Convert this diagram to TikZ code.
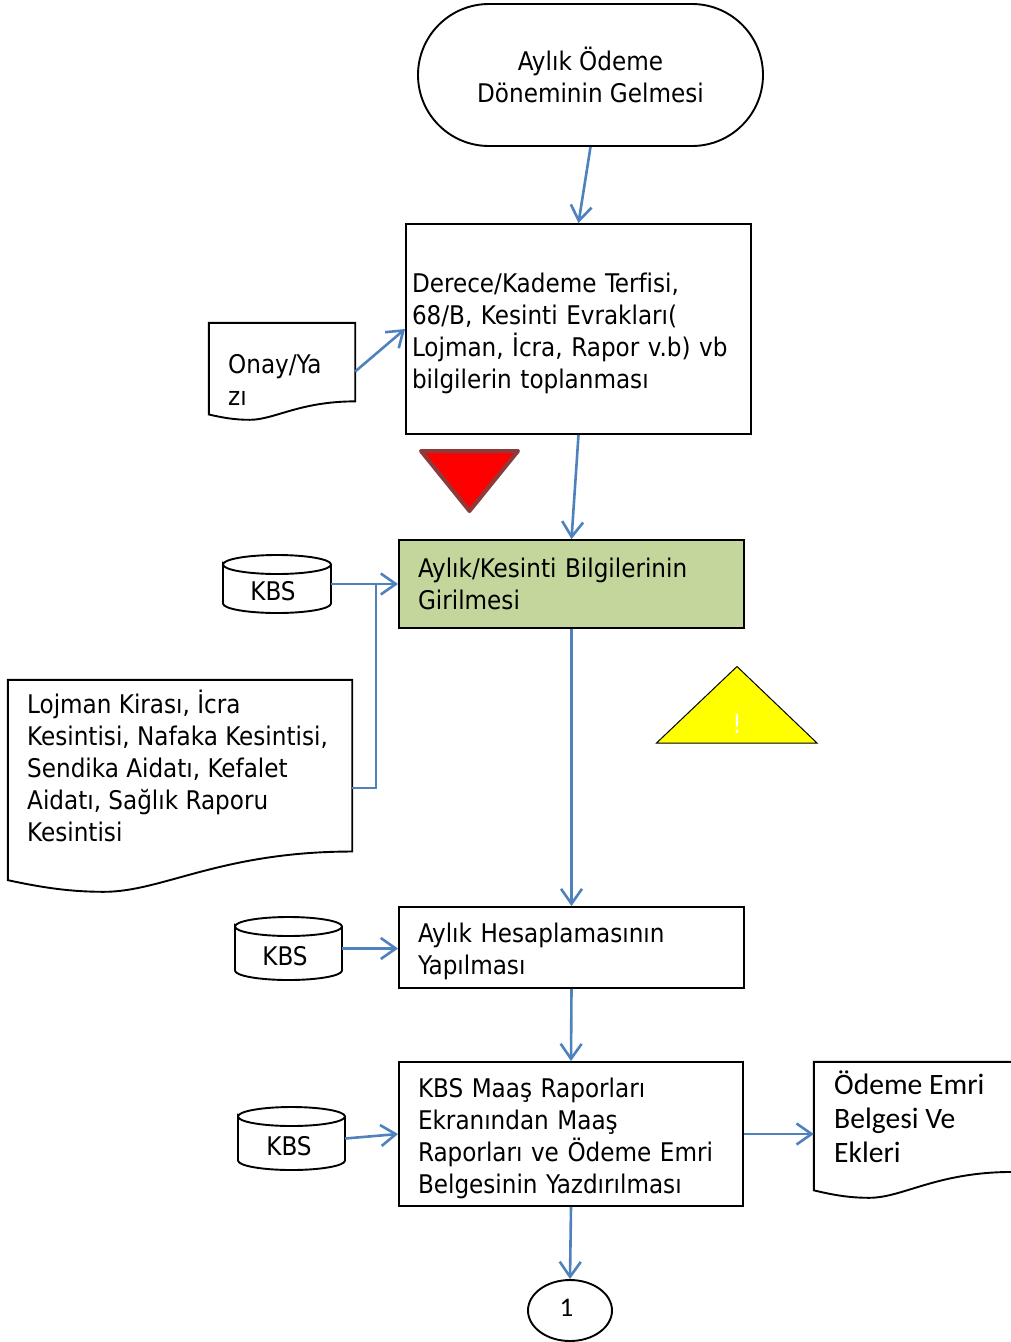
\documentclass[tikz,border=0pt]{standalone}
\usepackage{fontspec}
\setmainfont[Ligatures=NoCommon]{DejaVu Sans Condensed}
\newfontfamily\gillfont{Carlito}
\usetikzlibrary{arrows.meta,calc,shapes.geometric}
\definecolor{flow}{HTML}{4F81BD}
\definecolor{greenfill}{HTML}{C3D69B}
\definecolor{redline}{HTML}{8E3A3A}
\definecolor{warnred}{HTML}{FF0000}
\definecolor{warnyellow}{HTML}{FFFF00}
\newcommand{\lift}[1]{\rule{0pt}{#1pt}}
\tikzset{
  x=1pt,y=-1pt,
  shapeline/.style={draw=black,line width=1.9pt},
  flowbox/.style={shapeline,rectangle,inner ysep=0pt,align=left,font=\fontsize{25.7}{32}\selectfont},
  hidden/.style={rectangle,inner sep=0pt},
  txt/.style={inner sep=0pt,align=left,anchor=west,font=\fontsize{25.7}{32}\selectfont},
  conn/.style={draw=flow,line width=2.6pt,-{Straight Barb[length=15pt,width=21pt,line width=2.6pt]}},
  connplain/.style={draw=flow,line width=2.6pt}
}
% document outline: x0,y0,width,height,name
\newcommand{\docshape}[5]{%
  \node[hidden,minimum width=#3pt,minimum height=#4pt] (#5) at (#1+#3/2,#2+#4/2) {};
  \draw[shapeline,line join=miter] (#5.north west) -- (#5.north east)
    -- ($(#5.north east)+(0,{.81*#4})$)
    .. controls ($(#5.north west)+({.62*#3},{.81*#4})$) and ($(#5.north west)+({.45*#3},#4)$) ..
    ($(#5.north west)+({.28*#3},#4)$)
    .. controls ($(#5.north west)+({.18*#3},#4)$) and ($(#5.north west)+({.1*#3},{.98*#4})$) ..
    ($(#5.north west)+(0,{.945*#4})$) -- cycle;
}
% cylinder outline: x0,y0,width,height,name
\newcommand{\kbsshape}[5]{%
  \node[hidden,minimum width=#3pt,minimum height=#4pt] (#5) at (#1+#3/2,#2+#4/2) {};
  \draw[shapeline] (#1,#2+9.5) arc[x radius=#3/2,y radius=9.5,start angle=180,end angle=540]
    -- ++(0,#4-19) arc[x radius=#3/2,y radius=9.5,start angle=180,end angle=0]
    -- ++(0,-#4+19);
}
\begin{document}
\begin{tikzpicture}
\useasboundingbox (0,0) rectangle (1010,1342);
% process boxes
\node[flowbox,align=center,rounded corners=71pt,minimum width=345pt,minimum height=142pt] (start) at (590.5,75) {Aylık Ödeme\\Döneminin Gelmesi};
\node[flowbox,minimum width=345pt,minimum height=210pt,text width=333pt,inner xsep=6pt] (derece) at (578.5,329) {\lift{28}Derece/Kademe Terfisi,\\68/B, Kesinti Evrakları(\\Lojman, İcra, Rapor v.b) vb\\bilgilerin toplanması};
\node[flowbox,fill=greenfill,minimum width=345pt,minimum height=88pt,text width=307pt,inner xsep=19pt] (green) at (571.5,584) {Aylık/Kesinti Bilgilerinin\\Girilmesi};
\node[flowbox,minimum width=345pt,minimum height=81pt,text width=307pt,inner xsep=19pt] (hes) at (571.5,947.5) {\lift{28}Aylık Hesaplamasının\\Yapılması};
\node[flowbox,minimum width=344pt,minimum height=144pt,text width=306pt,inner xsep=19pt] (maas) at (571,1134) {\lift{28}KBS Maaş Raporları\\Ekranından Maaş\\Raporları ve Ödeme Emri\\Belgesinin Yazdırılması};
\node[shapeline,ellipse,minimum width=84pt,minimum height=61pt,inner sep=0pt] (one) at (570,1310.5) {};
\node[inner sep=0pt,font=\gillfont\fontsize{27}{32}\selectfont] (onetxt) at (566.5,1308) {1};
% documents
\docshape{209}{323}{146}{97}{onay}
\node[txt] (onaytxt) at (228,380) {Onay/Ya\\zı};
\docshape{8}{680}{344}{212}{lojman}
\node[txt] (lojmantxt) at (27,766) {Lojman Kirası, İcra\\Kesintisi, Nafaka Kesintisi,\\Sendika Aidatı, Kefalet\\Aidatı, Sağlık Raporu\\Kesintisi};
\docshape{814}{1062}{198}{136}{odeme}
\node[txt,font=\gillfont\fontsize{29.6}{34}\selectfont] (odemetxt) at (834,1117) {Ödeme Emri\\Belgesi Ve\\Ekleri};
% databases
\kbsshape{223}{555}{108}{58}{kbsa}
\node[txt,anchor=center] (kbsatxt) at (273,591) {KBS};
\kbsshape{235}{917}{107}{63}{kbsb}
\node[txt,anchor=center] (kbsbtxt) at (285,956) {KBS};
\kbsshape{238}{1107}{107}{63}{kbsc}
\node[txt,anchor=center] (kbsctxt) at (289,1146) {KBS};
% warning triangles
\draw[fill=warnred,draw=redline,line width=4pt,line join=round] (421,451) -- (518,451) -- (469.5,511) -- cycle;
\draw[fill=warnyellow,draw=black,line width=1pt] (737,666.5) -- (817,743) -- (656.5,743) -- cycle;
\node[inner sep=0pt,text=white,font=\fontsize{26}{30}\selectfont] (warn) at (737,724) {!};
% connectors
\draw[conn] (start.south) -- (derece.north);
\draw[conn] (onay.east) -- (derece.west);
\draw[conn] (derece.south) -- (green.north);
\draw[conn] (kbsa.east) -- (kbsa.east -| green.west);
\draw[connplain] (lojman.east) ++(0,2) -| (376,583);
\draw[conn] (green.south) -- (hes.north);
\draw[conn] (kbsb.east) -- (kbsb.east -| hes.west);
\draw[conn] (hes.south) -- (maas.north);
\draw[conn] (kbsc.east) -- (maas.west);
\draw[conn] (maas.east) -- (maas.east -| odeme.west);
\draw[conn] (maas.south) -- (one.north);
\end{tikzpicture}
\end{document}
